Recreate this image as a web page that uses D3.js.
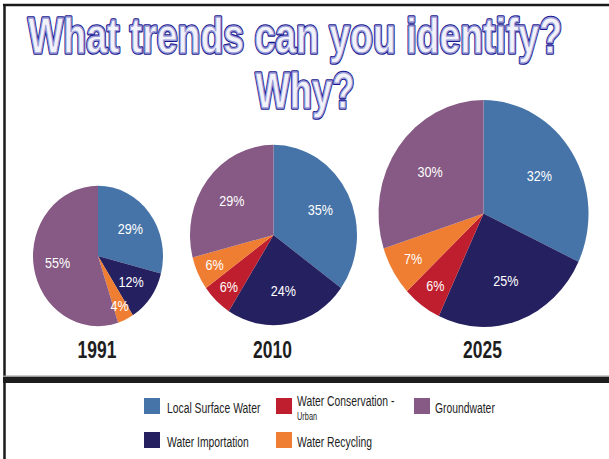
<!DOCTYPE html>
<html>
<head>
<meta charset="utf-8">
<script src="https://cdn.jsdelivr.net/npm/d3@7/dist/d3.min.js"></script>
<style>
  body { margin: 0; background: #fff; }
  svg { display: block; }
</style>
</head>
<body>
<svg id="chart" width="609" height="459"></svg>
<script>
// data
var categories = ["Local Surface Water", "Water Importation", "Water Conservation - Urban", "Water Recycling", "Groundwater"];
var years = ["1991", "2010", "2025"];
var share1991 = [29, 12, 0, 4, 55];
var share2010 = [35, 24, 6, 6, 29];
var share2025 = [32, 25, 6, 7, 30];
var legendOrder = ["Local Surface Water", "Water Conservation - Urban", "Groundwater", "Water Importation", "Water Recycling"];

var svg = d3.select("#chart"),
    width = +svg.attr("width"),
    height = +svg.attr("height");

var font = "'Liberation Sans', Arial, sans-serif";

var color = d3.scaleOrdinal()
    .domain(categories)
    .range(["#4674a8", "#252060", "#be1e2d", "#ef7d32", "#865a84"]);

// pie layout: centre, radius, and the picture's vertical stretch
var pies = [
  {year: years[0], values: share1991, cx: 98,    cy: 256,   r: 65},
  {year: years[1], values: share2010, cx: 273.5, cy: 235,   r: 83.5},
  {year: years[2], values: share2025, cx: 483.5, cy: 213.5, r: 105}
];
var stretch = 1.08;

// frame
svg.append("line").attr("x1", 3).attr("x2", width).attr("y1", 5).attr("y2", 5)
    .attr("stroke", "#1a1a1a").attr("stroke-width", 2.5);
svg.append("line").attr("x1", 4.5).attr("x2", 4.5).attr("y1", 4).attr("y2", height)
    .attr("stroke", "#1a1a1a").attr("stroke-width", 2.5);
svg.append("rect").attr("x", 3).attr("y", 375.5).attr("width", width - 3).attr("height", 1.5)
    .attr("fill", "#9a9a9a");
svg.append("rect").attr("x", 3).attr("y", 377).attr("width", width - 3).attr("height", 6)
    .attr("fill", "#1e1e1e");

// title, outlined word-art style
function outlined(txt, x, y, len) {
  var g = svg.append("g")
      .attr("transform", "translate(" + x + "," + y + ") scale(1,1.29)");
  [{stroke: "#16168e", sw: 2.8, fill: "#16168e"},
   {stroke: "#9a9ad6", sw: 1.1, fill: "#f2f2fb"}].forEach(function(s) {
    g.append("text")
        .attr("text-anchor", "middle")
        .attr("font-family", font)
        .attr("font-weight", "bold")
        .attr("font-size", 38)
        .attr("textLength", len)
        .attr("lengthAdjust", "spacingAndGlyphs")
        .attr("fill", s.fill)
        .attr("stroke", s.stroke)
        .attr("stroke-width", s.sw)
        .attr("stroke-linejoin", "round")
        .text(txt);
  });
}
outlined("What trends can you identify?", 295, 53, 534);
outlined("Why?", 305, 108, 99);

// pies
var pie = d3.pie()
    .sort(null)
    .value(function(d) { return d.value; });

pies.forEach(function(p) {
  var data = categories.map(function(c, i) { return {key: c, value: p.values[i]}; });
  var g = svg.append("g")
      .attr("transform", "translate(" + p.cx + "," + p.cy + ") scale(1," + stretch + ")");

  var arc = d3.arc().innerRadius(0).outerRadius(p.r);
  var arcs = pie(data);

  g.selectAll("path")
    .data(arcs)
    .enter().append("path")
      .attr("d", arc)
      .attr("fill", function(d) { return color(d.data.key); });

  g.selectAll("text")
    .data(arcs.filter(function(d) { return d.data.value > 0; }))
    .enter().append("text")
      .attr("transform", function(d) {
        var k = d.data.value >= 10 ? 0.63 : 0.78;
        var lab = d3.arc().innerRadius(p.r * k).outerRadius(p.r * k);
        return "translate(" + lab.centroid(d) + ") scale(0.9,1)";
      })
      .attr("dy", "0.36em")
      .attr("text-anchor", "middle")
      .attr("font-family", font)
      .attr("font-size", 14)
      .attr("fill", "#fff")
      .text(function(d) { return d.data.value + "%"; });

  svg.append("text")
      .attr("transform", "translate(" + (p.cx - 1) + ",358) scale(0.76," + stretch + ")")
      .attr("text-anchor", "middle")
      .attr("font-family", font)
      .attr("font-weight", "bold")
      .attr("font-size", 23)
      .attr("fill", "#1e1e1e")
      .text(p.year);
});

// legend
var legendX = [144, 276, 414],
    legendY = [398, 432];

var legend = svg.append("g")
    .attr("font-family", font)
    .attr("fill", "#1e1e1e")
  .selectAll("g")
  .data(legendOrder)
  .enter().append("g")
    .attr("transform", function(d, i) {
      return "translate(" + legendX[i % 3] + "," + legendY[Math.floor(i / 3)] + ")";
    });

legend.append("rect")
    .attr("width", 16)
    .attr("height", 16)
    .attr("fill", color);

function legendText(g, txt, x, y, size) {
  g.append("text")
      .attr("transform", "translate(" + x + "," + y + ") scale(0.74,1.05)")
      .attr("font-size", size)
      .text(txt);
}

legend.each(function(d) {
  var g = d3.select(this),
      parts = d.split(" - ");
  var tx = d === categories[0] || d === categories[1] ? 23 : 21;
  if (parts.length > 1) {
    legendText(g, parts[0] + " -", tx, 8, 14);
    legendText(g, parts[1], tx, 21.5, 10);
  } else {
    legendText(g, d, tx, 15, 14);
  }
});
</script>
</body>
</html>
